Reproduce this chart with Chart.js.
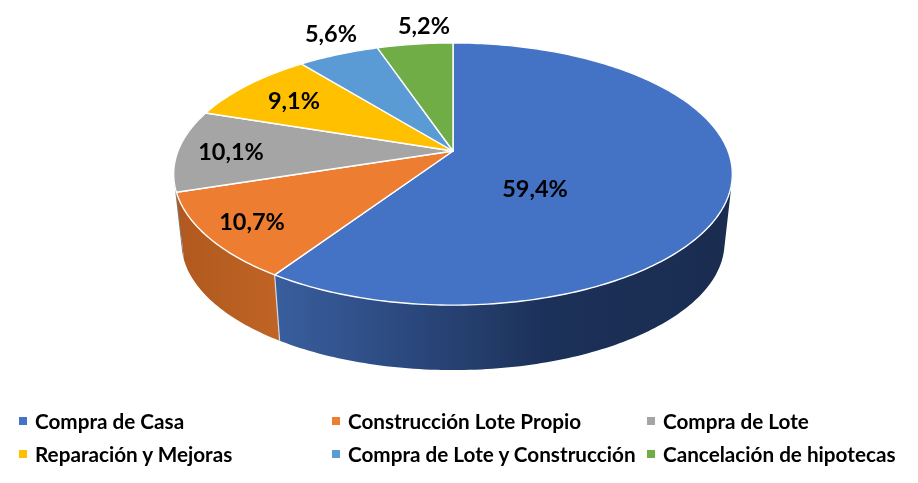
<!doctype html>
<html lang="es">
<head>
<meta charset="utf-8">
<title>Destino del crédito</title>
<script src="https://cdn.jsdelivr.net/npm/chart.js@4/dist/chart.umd.min.js"></script>
<style>
  html, body { margin: 0; background: #fff; }
  #wrap { position: relative; width: 918px; height: 483px; overflow: hidden; }
  #pie3d { position: absolute; left: 0; top: 0; }
  #legend {
    position: absolute; left: 19px; top: 404px;
    display: grid; grid-template-columns: 313px 315px auto; grid-auto-rows: 33px;
    font: 700 20.7px Lato, sans-serif; color: #000;
  }
  #legend div { display: flex; align-items: center; white-space: nowrap; }
  #legend i { width: 8px; height: 8px; margin-right: 8px; flex: none; }
</style>
</head>
<body>
<div id="wrap">
  <canvas id="pie3d" width="918" height="483"></canvas>
  <div id="legend"></div>
</div>

<script>
// slices, clockwise from 12 o'clock
var categories = ["Compra de Casa", "Construcción Lote Propio", "Compra de Lote",
                  "Reparación y Mejoras", "Compra de Lote y Construcción", "Cancelación de hipotecas"];
var values = [59.4, 10.7, 10.1, 9.1, 5.6, 5.2];
var valueLabels = ["59,4%", "10,7%", "10,1%", "9,1%", "5,6%", "5,2%"];
var topColors = ["#4472C4", "#ED7D31", "#A5A5A5", "#FFC000", "#5B9BD5", "#70AD47"];

// side wall shading, left to right
var wallColors = [
  [[0, "#395E9D"], [0.2, "#2F4F88"], [0.42, "#253F6E"], [0.6, "#1C3159"], [1, "#1A2C50"]],
  [[0, "#B0581E"], [1, "#BF6425"]],
  [[0, "#7C7C7C"], [1, "#7C7C7C"]],
  [[0, "#BF9000"], [1, "#BF9000"]],
  [[0, "#3F78AE"], [1, "#3F78AE"]],
  [[0, "#548235"], [1, "#548235"]]
];
var wallRange = [[278, 724], [176, 278], [174, 190], [190, 300], [300, 380], [380, 453]];

// where each value label sits (text centre)
var labelPos = [[535, 189], [252, 222], [231, 152], [294, 101], [331, 34], [424, 26]];

// camera settings for the tilted disc
var tilt = 0.462;      // vertical squash
var persp = 0.1756;    // far edge shrinks, near edge grows
var wallDepth = 69.3;  // vertical drop of the lower rim
var wallShrink = 0.972;

// angle -> point on the disc, r=1 is the rim
function project(arc, angle, r, s, dy) {
  var th = angle + Math.PI / 2;
  var u = Math.sin(th), v = Math.cos(th);
  var w = 1 / (1 + persp * v);
  return {
    x: arc.x + s * arc.outerRadius * u * r * w,
    y: arc.y + dy - s * arc.outerRadius * tilt * v * r * w
  };
}

function drawWall(ctx, arc, i) {
  var step = Math.PI / 180;
  var g = ctx.createLinearGradient(wallRange[i][0], 0, wallRange[i][1], 0);
  wallColors[i].forEach(function (c) { g.addColorStop(c[0], c[1]); });
  ctx.beginPath();
  // one quad per degree, all in one path so no seams show
  for (var a = arc.startAngle; a < arc.endAngle; a += step) {
    var b = Math.min(a + step, arc.endAngle);
    var q = [project(arc, a, 1, 1, 0), project(arc, b, 1, 1, 0),
             project(arc, b, 1, wallShrink, wallDepth), project(arc, a, 1, wallShrink, wallDepth)];
    // keep every quad wound the same way or overlaps cancel out at the silhouette
    var area = 0;
    for (var k = 0; k < 4; k++) {
      var n = q[(k + 1) % 4];
      area += q[k].x * n.y - n.x * q[k].y;
    }
    if (area < 0) q.reverse();
    ctx.moveTo(q[0].x, q[0].y);
    ctx.lineTo(q[1].x, q[1].y);
    ctx.lineTo(q[2].x, q[2].y);
    ctx.lineTo(q[3].x, q[3].y);
    ctx.closePath();
  }
  ctx.fillStyle = g;
  ctx.fill();
}

function drawTop(ctx, arc, i) {
  var step = Math.PI / 180;
  ctx.beginPath();
  ctx.moveTo(arc.x, arc.y);
  for (var a = arc.startAngle; a < arc.endAngle; a += step) {
    var p = project(arc, a, 1, 1, 0);
    ctx.lineTo(p.x, p.y);
  }
  var e = project(arc, arc.endAngle, 1, 1, 0);
  ctx.lineTo(e.x, e.y);
  ctx.closePath();
  ctx.fillStyle = topColors[i];
  ctx.fill();
  ctx.strokeStyle = "#fff";
  ctx.lineWidth = 1.4;
  ctx.lineJoin = "round";
  ctx.stroke();
}

var pie3dPlugin = {
  id: "pie3d",
  beforeDatasetDraw: function (chart, args) {
    var ctx = chart.ctx, arcs = args.meta.data, i;
    ctx.save();
    for (i = arcs.length - 1; i >= 0; i--) drawWall(ctx, arcs[i], i);

    // light seam where the two front walls meet
    var s1 = project(arcs[1], arcs[1].startAngle, 1, 1, 0);
    var s2 = project(arcs[1], arcs[1].startAngle, 1, wallShrink, wallDepth);
    ctx.beginPath();
    ctx.moveTo(s1.x, s1.y);
    ctx.lineTo(s2.x, s2.y);
    ctx.strokeStyle = "#d5d9e0";
    ctx.lineWidth = 1.2;
    ctx.stroke();

    for (i = 0; i < arcs.length; i++) drawTop(ctx, arcs[i], i);
    ctx.restore();
    return false; // flat arcs are replaced by the tilted ones
  },
  afterDatasetsDraw: function (chart) {
    var ctx = chart.ctx;
    ctx.save();
    ctx.font = "700 23.5px Lato, sans-serif";
    ctx.fillStyle = "#000";
    ctx.textAlign = "center";
    ctx.textBaseline = "middle";
    valueLabels.forEach(function (t, i) {
      ctx.fillText(t, labelPos[i][0], labelPos[i][1]);
    });
    ctx.restore();
  }
};

var chart = new Chart(document.getElementById("pie3d").getContext("2d"), {
  type: "pie",
  data: {
    labels: categories,
    datasets: [{ data: values, backgroundColor: topColors, borderWidth: 0 }]
  },
  options: {
    responsive: false,
    animation: false,
    radius: 275,
    layout: { padding: { right: 12, bottom: 181 } },
    plugins: { legend: { display: false }, tooltip: { enabled: false } }
  },
  plugins: [pie3dPlugin]
});

// legend in three aligned columns
var legendBox = document.getElementById("legend");
categories.forEach(function (name, i) {
  var row = document.createElement("div");
  var mark = document.createElement("i");
  mark.style.background = topColors[i];
  row.appendChild(mark);
  row.appendChild(document.createTextNode(name));
  legendBox.appendChild(row);
});
</script>
</body>
</html>
